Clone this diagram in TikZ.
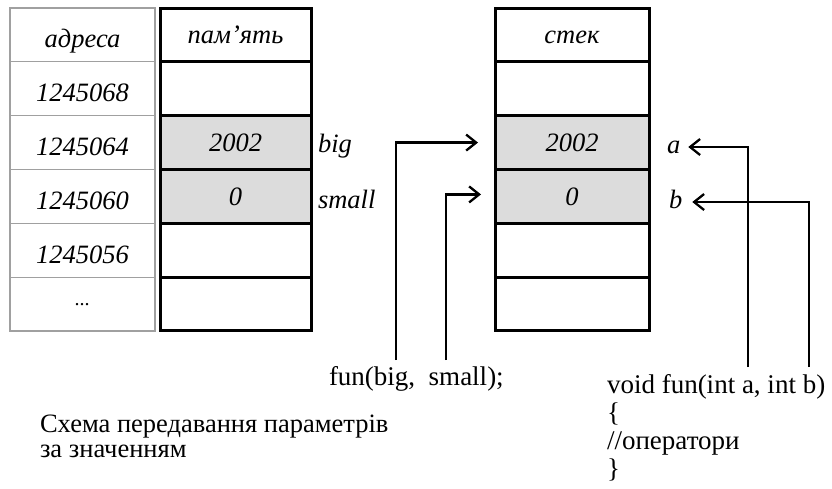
\documentclass[tikz,border=0pt]{standalone}
\usepackage{fontspec}
\setmainfont{Liberation Serif}
\usetikzlibrary{arrows.meta}
\definecolor{cellgray}{HTML}{DCDCDC}
\definecolor{rulegray}{HTML}{A0A0A0}
\begin{document}
\begin{tikzpicture}[x=1pt,y=-1pt,
  cellbase/.style={inner sep=0pt, outer sep=0pt, anchor=north west,
    minimum height=53.83pt, font=\fontsize{26.5}{28}\selectfont\itshape},
  addrcell/.style={cellbase, draw=rulegray, line width=1.2pt,
    minimum width=145pt, text height=26pt, text depth=0pt},
  memcell/.style={cellbase, draw=black, line width=3pt,
    text height=18pt, text depth=0pt},
  varlabel/.style={inner sep=0pt, outer sep=0pt, anchor=base west,
    text height=12pt, text depth=0pt, font=\fontsize{26.5}{28}\selectfont\itshape},
  conn/.style={line width=2.3pt, -{Straight Barb[length=10pt,width=16pt]}},
  codetext/.style={inner sep=0pt, outer sep=0pt, anchor=base west, align=left,
    font=\fontsize{27}{28}\selectfont},
  captiontext/.style={inner sep=0pt, outer sep=0pt, anchor=base west, align=left,
    font=\fontsize{26.5}{25}\selectfont}
]
\useasboundingbox (0,0) rectangle (832,488);

% address column
\foreach \i/\t in {0/адреса,1/1245068,2/1245064,3/1245060,4/1245056,
                   5/{\raisebox{12pt}{\fontsize{20}{20}\selectfont...}}}
  \node[addrcell] (a\i) at (10,{8+53.83*\i}) {\t};

% memory column
\foreach \i/\t/\f in {0/пам’ять/white,1//white,2/2002/cellgray,
                      3/0/cellgray,4//white,5//white}
  \node[memcell, fill=\f, minimum width=151pt] (m\i) at (160,{8+53.83*\i}) {\t};

% stack column
\foreach \i/\t/\f in {0/стек/white,1//white,2/2002/cellgray,
                      3/0/cellgray,4//white,5//white}
  \node[memcell, fill=\f, minimum width=154pt] (s\i) at (495,{8+53.83*\i}) {\t};

% variable names
\node[varlabel] (lbig)   at (318,152) {big};
\node[varlabel] (lsmall) at (318,208) {small};
\node[varlabel] (la)     at (667,153) {a};
\node[varlabel] (lb)     at (669,208) {b};

% call and declaration (base anchor = baseline of the last line)
\node[codetext] (call) at (329,385) {fun(big,\ \ small);};
\node[codetext] (decl) at (607,477) {void fun(int a, int b)\\\{\\//оператори\\\}};

% caption
\node[captiontext] (caption) at (40,457) {Схема передавання параметрів\\за значенням};

% connector feet
\coordinate (pbig)   at (396,360);
\coordinate (psmall) at (446,360);
\coordinate (pa)     at (748,367);
\coordinate (pb)     at (809,367);

% arguments copied into the stack
\draw[conn] (pbig)   |- ([xshift=-17pt]s2.west);
\draw[conn] (psmall) |- ([xshift=-14pt,yshift=2pt]s3.west);
% parameters naming the stack cells
\draw[conn] (pa) |- ([xshift=8pt]la.east);
\draw[conn] (pb) |- ([xshift=10pt]lb.east);
\end{tikzpicture}
\end{document}
